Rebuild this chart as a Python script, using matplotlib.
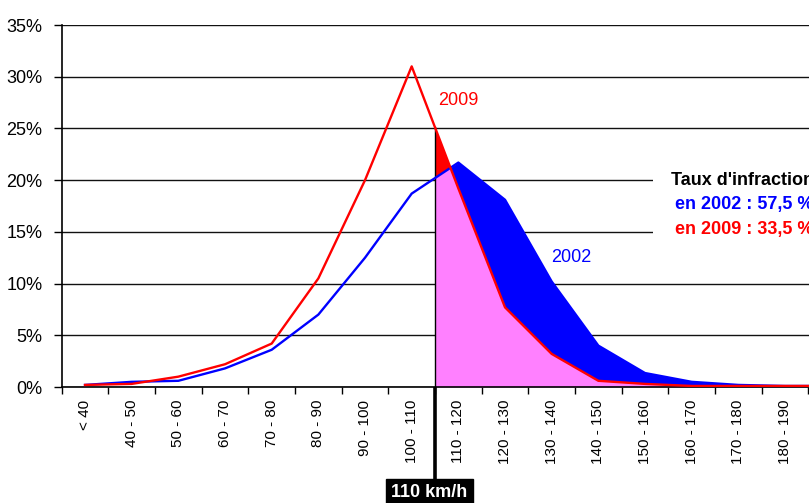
import numpy as np
import matplotlib.pyplot as plt
import matplotlib.transforms as mtransforms
from matplotlib.patches import Rectangle

plt.rcParams['font.family'] = ['Liberation Sans', 'DejaVu Sans']

# speed classes (km/h) and share of vehicles (%)
categories = ["< 40", "40 - 50", "50 - 60", "60 - 70", "70 - 80", "80 - 90", "90 - 100",
              "100 - 110", "110 - 120", "120 - 130", "130 - 140", "140 - 150", "150 - 160",
              "160 - 170", "170 - 180", "180 - 190", "190 - 200"]
share_2002 = [0.2, 0.5, 0.6, 1.8, 3.6, 7.0, 12.5, 18.7, 21.7, 18.1, 10.2, 4.0, 1.35, 0.5, 0.2, 0.1, 0.1]
share_2009 = [0.2, 0.3, 1.0, 2.2, 4.2, 10.5, 20.0, 31.0, 19.2, 7.7, 3.2, 0.6, 0.3, 0.1, 0.1, 0.1, 0.1]
y_ticks = [0, 5, 10, 15, 20, 25, 30, 35]
limit_label = "110 km/h"
limit_pos = 7.5  # boundary between 100-110 and 110-120
rate_title = "Taux d'infraction"
rate_2002 = "en 2002 : 57,5 %"
rate_2009 = "en 2009 : 33,5 %"

PINK, BLUE, RED = "#FF80FF", "#0000FF", "#FF0000"

x = np.arange(len(categories))
b = np.array(share_2002); r = np.array(share_2009)


def add_crossings(xs, y1, y2):
    # insert the points where the two polylines cross so fills follow the kink
    xo, a1, a2 = [xs[0]], [y1[0]], [y2[0]]
    for i in range(1, len(xs)):
        d0, d1 = y1[i-1] - y2[i-1], y1[i] - y2[i]
        if d0 * d1 < 0:
            t = d0 / (d0 - d1)
            xc = xs[i-1] + t * (xs[i] - xs[i-1])
            yc = y1[i-1] + t * (y1[i] - y1[i-1])
            xo.append(xc); a1.append(yc); a2.append(yc)
        xo.append(xs[i]); a1.append(y1[i]); a2.append(y2[i])
    return np.array(xo), np.array(a1), np.array(a2)


fig = plt.figure(figsize=(8.09, 5.03), dpi=100)
ax = fig.add_axes([61.7/809, 116/503, 793.3/809, 362/503])
ax.set_xlim(-0.5, len(categories) - 0.5)
ax.set_ylim(0, 35)

# shaded zone above the speed limit
xf = np.concatenate([[limit_pos], x[x > limit_pos]])
xf, bf, rf = add_crossings(xf, np.interp(xf, x, b), np.interp(xf, x, r))
ax.fill_between(xf, 0, np.minimum(bf, rf), color=PINK, lw=0, zorder=1)
ax.fill_between(xf, bf, rf, where=rf >= bf, color=RED, lw=0, zorder=1)
ax.fill_between(xf, rf, bf, where=bf >= rf, color=BLUE, lw=0, zorder=1)

ax.plot([limit_pos, limit_pos], [0, rf[0]], color="black", lw=1.0, zorder=3)
ax.plot(x, b, color=BLUE, lw=1.7, zorder=4)
ax.plot(x, r, color=RED, lw=1.7, zorder=5)

ax.text(8.0, 27.7, "2009", color=RED, fontsize=13, ha="center", va="center", zorder=6)
ax.text(10.43, 12.5, "2002", color=BLUE, fontsize=13, ha="center", va="center", zorder=6)

# legend-like block with white backing over the grid
ax.add_patch(Rectangle((12.17, 13.6), 6, 8.0, facecolor="white", edgecolor="none", zorder=1.5))
ax.text(12.56, 20.0, rate_title, color="black", fontsize=13, fontweight="bold", va="center", zorder=6)
ax.text(12.64, 17.6, rate_2002, color=BLUE, fontsize=13, fontweight="bold", va="center", zorder=6)
ax.text(12.64, 15.2, rate_2009, color=RED, fontsize=13, fontweight="bold", va="center", zorder=6)

# limit marker below the axis
trans = mtransforms.blended_transform_factory(ax.transData, ax.transAxes)
ax.plot([limit_pos, limit_pos], [0, -0.26], transform=trans, color="black", lw=2.6,
        clip_on=False, solid_capstyle="butt", zorder=6)
ax.text(7.38, -0.292, limit_label, transform=trans, color="white", fontsize=13, fontweight="bold",
        ha="center", va="center", clip_on=False, zorder=7,
        bbox=dict(boxstyle="square,pad=0.3", fc="black", ec="black"))

# axes styling
ax.set_yticks(y_ticks)
ax.set_yticklabels([f"{v}%" for v in y_ticks], fontsize=13)
bounds = np.arange(-0.5, len(categories))
ax.set_xticks(bounds, labels=[""] * len(bounds))
ax.set_xticks(x, labels=categories, minor=True, rotation=90, fontsize=11)
ax.tick_params(axis="y", length=6, width=1, pad=8, direction="out")
ax.tick_params(axis="x", which="major", length=5, width=1, direction="out")
ax.tick_params(axis="x", which="minor", length=0, pad=9)
for lbl in ax.get_xticklabels(minor=True):
    lbl.set_verticalalignment("top")
ax.yaxis.grid(True, color="#111111", lw=1.0)
ax.set_axisbelow(True)
for s in ("top", "right"):
    ax.spines[s].set_visible(False)
for s in ("left", "bottom"):
    ax.spines[s].set_linewidth(1.2)

fig.savefig("out.png", dpi=100)
